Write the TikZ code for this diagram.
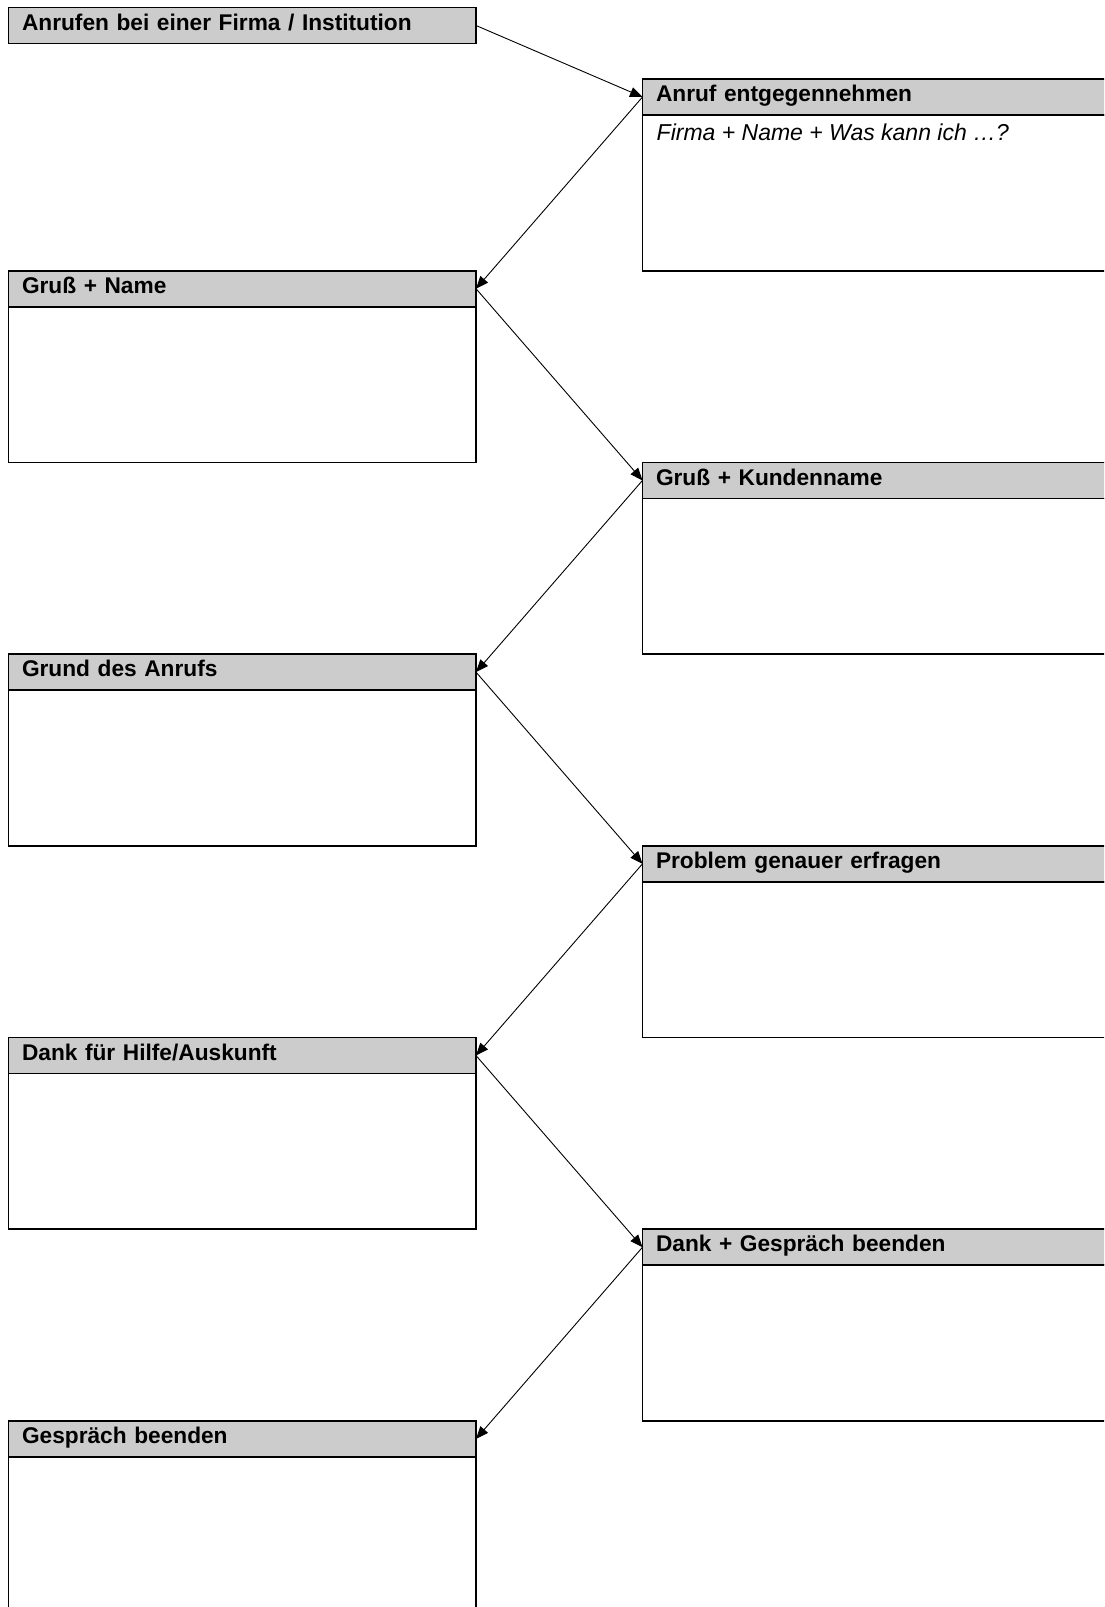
\documentclass[tikz,border=0pt]{standalone}
\usepackage{fontspec}
\setmainfont{Liberation Sans}
\usetikzlibrary{arrows.meta}
\definecolor{hdrgray}{HTML}{CCCCCC}
\tikzset{
  hdr/.style={draw=black, line width=1.8pt, fill=hdrgray, minimum width=467.5pt,
    minimum height=36pt, inner ysep=0pt, inner xsep=13.5pt, text width=440.5pt,
    align=left, text height=15pt, text depth=5.5pt,
    font=\fontsize{22.7pt}{26pt}\selectfont\bfseries, anchor=north west, outer sep=0pt},
  bodybox/.style={draw=black, line width=1.8pt, minimum width=467.5pt,
    minimum height=155.7pt, anchor=north, outer sep=0pt, inner sep=0pt},
  conn/.style={line width=0.9pt, -{Triangle[length=12.5pt,width=10pt]}},
  note/.style={anchor=base west, inner sep=0pt, font=\fontsize{23pt}{26pt}\selectfont\itshape}
}
\begin{document}
\begin{tikzpicture}[x=1pt,y=-1pt]
\useasboundingbox (0,0) rectangle (1104,1607);
\clip (0,0) rectangle (1104,1607);
\fill[white] (0,0) rectangle (1104,1607);

\node[hdr] (top) at (8.5,7.5) {Anrufen bei einer Firma / Institution};

\node[hdr] (r1) at (642.5,79) {Anruf entgegennehmen};
\node[bodybox] (r1b) at (r1.south) {};
\node[note] (r1t) at (656.5,140) {Firma + Name + Was kann ich …?};

\node[hdr] (l1) at (8.5,270.7) {Gruß + Name};
\node[bodybox] (l1b) at (l1.south) {};

\node[hdr] (r2) at (642.5,462.4) {Gruß + Kundenname};
\node[bodybox] (r2b) at (r2.south) {};

\node[hdr] (l2) at (8.5,654.1) {Grund des Anrufs};
\node[bodybox] (l2b) at (l2.south) {};

\node[hdr] (r3) at (642.5,845.8) {Problem genauer erfragen};
\node[bodybox] (r3b) at (r3.south) {};

\node[hdr] (l3) at (8.5,1037.5) {Dank für Hilfe/Auskunft};
\node[bodybox] (l3b) at (l3.south) {};

\node[hdr] (r4) at (642.5,1229.2) {Dank + Gespräch beenden};
\node[bodybox] (r4b) at (r4.south) {};

\node[hdr] (l4) at (8.5,1420.9) {Gespräch beenden};
\node[bodybox] (l4b) at (l4.south) {};

\draw[conn] (top.east) -- (r1.west);
\draw[conn] (r1.west) -- (l1.east);
\draw[conn] (l1.east) -- (r2.west);
\draw[conn] (r2.west) -- (l2.east);
\draw[conn] (l2.east) -- (r3.west);
\draw[conn] (r3.west) -- (l3.east);
\draw[conn] (l3.east) -- (r4.west);
\draw[conn] (r4.west) -- (l4.east);
\end{tikzpicture}
\end{document}
